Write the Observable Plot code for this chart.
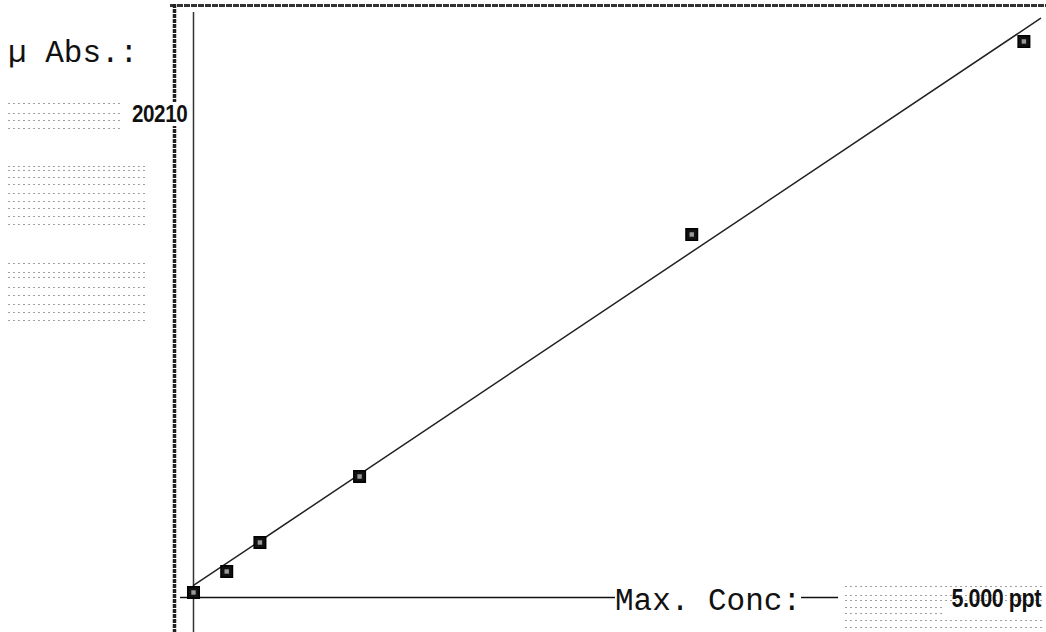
<!DOCTYPE html>
<html><head><meta charset="utf-8">
<script src="https://cdn.jsdelivr.net/npm/d3@7"></script>
<script src="https://cdn.jsdelivr.net/npm/@observablehq/plot@0.6"></script>
<style>
body{margin:0;background:#fff;}
#wrap{position:relative;width:1046px;height:632px;overflow:hidden;background:#fff;}
#chart svg{display:block;}
.lbl{position:absolute;white-space:nowrap;color:#111;}
.mono{font-family:"Liberation Mono","DejaVu Sans Mono",monospace;font-size:31px;line-height:31px;}
.narrow{font-family:"Liberation Sans Narrow","Liberation Sans",sans-serif;font-weight:bold;letter-spacing:-0.5px;transform:scaleX(0.86);transform-origin:right center;}
.dots{position:absolute;height:1px;background:repeating-linear-gradient(90deg,#a0a0a0 0 2px,transparent 2px 5px);}
</style></head>
<body><div id="wrap"><div id="chart"></div>
<div id="deco"></div>
<span class="lbl mono" id="ytitle" style="left:8px;top:38px;"></span>
<span class="lbl narrow" id="ymax" style="right:859px;top:102px;font-size:24px;line-height:24px;background:#fff;padding-left:2px;"></span>
<span class="lbl mono" id="xtitle" style="left:615px;top:586px;background:#fff;"></span>
<span class="lbl narrow" id="xmax" style="right:5px;top:586px;font-size:25px;line-height:25px;"></span>
</div>
<script>
// Calibration standards (concentration in ppt) and measured absorbance (µAbs)
const concentrations = [0, 0.2, 0.4, 1.0, 3.0, 5.0];
const absorbances = [172, 892, 1887, 4152, 12456, 19079];
// Drawn calibration (fit) line end points
const fitConc = [0, 5.1];
const fitAbs = [412, 19870];
// Texts
const yTitle = "µ Abs.:";
const yMaxLabel = "20210";
const xTitle = "Max. Conc:";
const xMaxLabel = "5.000 ppt";
const yMax = 20210;
const xMax = 5.1;

const points = concentrations.map((c, i) => ({c, a: absorbances[i]}));
const fit = fitConc.map((c, i) => ({c, a: fitAbs[i]}));

const plot = Plot.plot({
  width: 1046, height: 632,
  marginLeft: 193, marginRight: 6, marginTop: 8, marginBottom: 35,
  x: {domain: [0, xMax], axis: null},
  y: {domain: [0, yMax], axis: null},
  style: {background: "transparent"},
  marks: [
    Plot.ruleY([yMax], {dy: -3, insetLeft: -23, insetRight: -6, stroke: "#333", strokeWidth: 3, strokeDasharray: "6,1"}),
    Plot.ruleX([0], {dx: -19, insetTop: -4, insetBottom: -35, stroke: "#222", strokeWidth: 3.5, strokeDasharray: "4,1"}),
    Plot.ruleX([0], {insetTop: 4, insetBottom: -35, stroke: "#333", strokeWidth: 1.5}),
    Plot.ruleY([0], {insetLeft: -13, insetRight: 202, stroke: "#111", strokeWidth: 1.5}),
    Plot.line(fit, {x: "c", y: "a", stroke: "#222", strokeWidth: 1.5}),
    Plot.dot(points, {x: "c", y: "a", symbol: "square", r: 6.5, fill: "#111", stroke: "#000"}),
    Plot.dot(points, {x: "c", y: "a", symbol: "square", r: 2.5, fill: "#999"})
  ]
});
document.getElementById("chart").append(plot);
document.getElementById("ytitle").textContent = yTitle;
document.getElementById("ymax").textContent = yMaxLabel;
document.getElementById("xtitle").textContent = xTitle;
document.getElementById("xmax").textContent = xMaxLabel;

// faint dotted scan texture blocks (decoration)
const deco = document.getElementById("deco");
function rows(x, w, ys){ ys.forEach(y => { const d = document.createElement("div"); d.className = "dots"; d.style.left = x + "px"; d.style.top = y + "px"; d.style.width = w + "px"; deco.append(d); }); }
rows(8, 112, [103, 113, 120, 128]);
rows(8, 137, [166, 170, 177, 184, 193, 201, 208, 216, 224]);
rows(8, 137, [263, 272, 277, 287, 295, 304, 312, 320]);
rows(845, 198, [586, 595, 600, 620, 627]);
rows(845, 100, [607, 613]);
</script>
</body></html>
